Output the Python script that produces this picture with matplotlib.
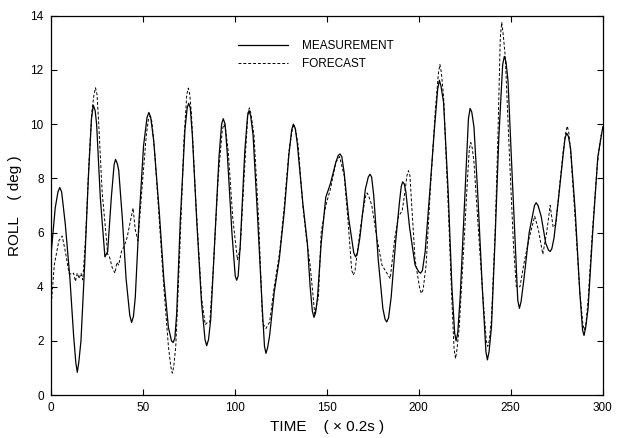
import matplotlib
matplotlib.use("Agg")
import matplotlib.pyplot as plt

plt.rcParams['font.family'] = ['Liberation Sans', 'DejaVu Sans']

meas_t = [0, 2.5, 4, 5, 6, 8, 10.5, 12.5, 13.7, 14.5, 15.3, 16.5, 18.5, 20.5, 22.2, 23.2, 24.2, 25, 27, 29.5, 31, 33, 34.5, 35.3, 36.2, 37, 39, 41,
          43, 44, 45, 46, 48, 50.5, 52.4, 53.4, 54.4, 56, 59, 61.5, 64, 65.7, 66.6, 67.5, 68.5, 70.5, 73, 74.2, 75, 75.9, 77, 79.5, 82, 83.9, 84.8, 85.8, 87, 89,
          91.5, 92.9, 93.8, 94.8, 96, 98.5, 100.3, 101.1, 101.9, 103, 105.5, 107, 107.8, 108.7, 110, 112.5, 115, 116.2, 117, 117.9, 119, 121.5, 124.2, 127, 129.5, 131, 131.9, 132.9, 134, 137,
          139.5, 141, 142.2, 143.1, 144, 145, 147, 149.5, 152, 155, 156.3, 157.2, 158.2, 159.5, 162, 164.7, 165.7, 166.7, 168, 171, 172.6, 173.5, 174.4, 175.5, 178, 180.5, 181.7, 182.6, 183.6, 185,
          187.5, 189.5, 190.5, 191.3, 192.1, 193, 195, 198, 200, 201, 202, 203.5, 206, 208.5, 210.3, 211.2, 212.1, 213.5, 216, 218, 219.5, 220.3, 221.2, 222.5, 225, 227, 227.9, 228.8, 230, 232,
          234.5, 236.5, 237.3, 238.2, 239.5, 241.5, 243.5, 245.6, 246.5, 247.4, 248.5, 250.5, 252.5, 253.8, 254.7, 255.6, 257, 260, 262.9, 263.8, 264.8, 266.5, 269, 270.5, 271.4, 272.3, 273.5, 276, 278.5, 279.5, 280.4,
          281.3, 282.5, 285, 287.5, 289, 289.8, 290.7, 292, 294.5, 297.3, 300]
meas_v = [5.0, 6.9, 7.5, 7.66, 7.5, 6.3, 4.3, 2.2, 1.2, 0.84, 1.2, 2.0, 4.8, 8.0, 10.2, 10.7, 10.5, 10.0, 7.3, 5.1, 5.3, 7.3, 8.5, 8.7, 8.55, 8.3, 6.5, 4.3,
          2.95, 2.68, 2.9, 3.6, 6.4, 9.2, 10.25, 10.43, 10.25, 9.4, 6.8, 4.3, 2.5, 2.0, 1.94, 2.1, 3.0, 6.5, 9.8, 10.6, 10.77, 10.6, 9.6, 6.3, 3.4, 2.05, 1.82, 2.05, 2.8, 5.5,
          8.8, 10.0, 10.2, 10.0, 8.9, 6.0, 4.4, 4.24, 4.4, 5.5, 9.0, 10.3, 10.5, 10.3, 9.6, 6.5, 3.2, 1.8, 1.54, 1.75, 2.2, 3.8, 5.0, 6.8, 8.9, 9.8, 10.0, 9.85, 9.3, 7.1,
          5.6, 4.0, 3.1, 2.87, 3.05, 3.6, 5.6, 7.3, 7.8, 8.6, 8.85, 8.9, 8.8, 8.2, 6.5, 5.25, 5.1, 5.25, 5.8, 7.6, 8.05, 8.15, 8.05, 7.4, 5.0, 3.2, 2.8, 2.7, 2.85, 3.6,
          5.7, 7.1, 7.7, 7.87, 7.8, 7.5, 6.2, 4.8, 4.55, 4.5, 4.6, 5.3, 7.5, 9.8, 11.3, 11.62, 11.4, 10.8, 7.5, 4.0, 2.3, 2.0, 2.3, 3.6, 7.3, 10.2, 10.58, 10.45, 9.9, 7.5,
          4.0, 1.6, 1.3, 1.6, 2.5, 5.8, 9.5, 12.2, 12.5, 12.3, 11.6, 8.5, 5.5, 3.5, 3.2, 3.45, 4.2, 6.0, 7.0, 7.1, 7.0, 6.6, 5.6, 5.35, 5.3, 5.4, 5.8, 7.3, 8.9, 9.5, 9.66,
          9.55, 9.1, 6.8, 3.8, 2.4, 2.2, 2.5, 3.2, 6.0, 8.8, 9.9]

fc_t = [0, 2, 4.5, 6.3, 8, 10, 11.5, 12.5, 13.5, 14.5, 15.5, 16.5, 17.5, 19, 21, 22.5, 23.6, 24.4, 25.2, 26, 28, 30,
        31, 32, 33.5, 35, 36, 37, 38.5, 40, 41.5, 43, 44.8, 46, 47.5, 49.5, 52, 53.2, 54, 55, 56.5, 59, 61.5, 64,
        65.3, 66.1, 66.9, 68, 70, 72.5, 74, 74.8, 75.6, 76.5, 79, 82, 84, 85.5, 86.5, 88.5, 91, 93.3, 94.2, 95.1, 96.5, 99, 101.5, 103, 105.5, 107.2, 108, 108.8,
        110.5, 113, 115.2, 117, 119, 121.5, 124.5, 127, 129.5, 131.3, 132.2, 133.1, 134.5, 137, 139, 141, 143.5, 145.5, 147, 149.5, 152, 155,
        157, 159.5, 161.5, 163.6, 164.5, 165.4, 166.5, 169, 171.2, 172, 172.8, 174.5, 177, 180, 184.5, 187, 189, 191, 192.5, 193.6, 194.4, 195.2, 196, 198, 200.6, 201.5, 202.4, 204,
        206.5, 209, 210.7, 211.5, 212.3, 213.5, 216, 218, 219.2, 220, 220.8, 222, 224.5, 226.5, 227.5, 228.3, 229.1, 230, 232.5, 235, 236.7, 237.5, 238.3, 239.5, 241.5, 243, 244.3, 245.1, 245.9, 247,
        249.5, 251.5, 253, 255, 257, 260, 263, 265, 267.4, 269.5, 271.4, 273, 274.5, 276.5, 278.5, 279.9, 280.7, 281.5, 282.5, 285, 287.5, 289.2, 290, 290.8,
        292, 294.5, 297, 299]
fc_v = [3.0, 4.8, 5.7, 5.87, 5.3, 4.5, 4.45, 4.5, 4.2, 4.5, 4.3, 4.5, 4.25, 5.8, 8.8, 10.5, 11.1, 11.34, 11.1, 10.2, 7.5, 6.0,
        5.2, 5.1, 4.7, 4.5, 4.9, 4.8, 5.3, 5.5, 5.8, 6.3, 6.9, 6.1, 5.7, 7.5, 9.6, 10.2, 10.3, 10.1, 9.0, 6.5, 4.0, 1.8,
        1.05, 0.81, 1.05, 1.8, 5.0, 9.5, 11.1, 11.33, 11.1, 10.4, 7.0, 3.6, 2.6, 2.7, 2.7, 4.8, 8.0, 9.8, 10.0, 9.8, 9.0, 6.5, 5.0, 5.4, 8.5, 10.4, 10.6, 10.4,
        9.6, 6.5, 2.65, 2.46, 2.7, 4.0, 5.3, 7.0, 9.0, 9.8, 9.95, 9.8, 9.2, 7.0, 5.8, 4.8, 3.0, 3.6, 6.0, 7.0, 7.6, 8.6,
        8.8, 8.1, 6.5, 4.6, 4.43, 4.6, 5.2, 6.5, 7.35, 7.46, 7.35, 7.0, 5.9, 4.8, 4.3, 5.8, 6.6, 6.8, 7.5, 8.1, 8.28, 8.1, 7.2, 5.0, 3.9, 3.75, 3.9, 4.8,
        7.8, 10.5, 11.9, 12.2, 11.9, 11.0, 7.0, 3.5, 1.7, 1.35, 1.7, 2.5, 5.5, 8.0, 9.1, 9.32, 9.1, 8.6, 6.0, 3.5, 2.0, 1.8, 2.0, 2.8, 6.0, 9.5, 13.2, 13.75, 13.3, 12.5,
        8.5, 5.5, 4.0, 4.0, 4.8, 5.8, 6.6, 6.1, 5.2, 6.0, 7.0, 6.2, 6.3, 7.7, 9.0, 9.7, 9.93, 9.7, 9.0, 6.5, 3.8, 2.6, 2.4, 2.6,
        3.5, 6.2, 8.5, 9.6]

x_ticks = [0, 50, 100, 150, 200, 250, 300]
y_ticks = [0, 2, 4, 6, 8, 10, 12, 14]

fig = plt.figure(figsize=(6.17, 4.38), dpi=100)
ax = fig.add_axes([0.082, 0.098, 0.895, 0.866])

ax.plot(meas_t, meas_v, color='black', lw=0.9, label='MEASUREMENT')
ax.plot(fc_t, fc_v, color='black', lw=0.7, linestyle=(0, (3, 2)), label='FORECAST')

ax.set_xlim(0, 300)
ax.set_ylim(0, 14)
ax.set_xticks(x_ticks)
ax.set_yticks(y_ticks)
ax.tick_params(direction='in', length=4, width=0.8, top=True, right=True, labelsize=8.5, pad=5)
for s in ax.spines.values():
    s.set_linewidth(0.9)

ax.set_xlabel('TIME    ( × 0.2s )', fontsize=11, labelpad=4)
ax.set_ylabel('ROLL    ( deg )', fontsize=11, labelpad=6)

leg = ax.legend(loc='upper left', bbox_to_anchor=(0.32, 0.965), frameon=False,
                fontsize=8.5, handlelength=4.2, handletextpad=1.2, labelspacing=0.55)

fig.savefig('out.png', dpi=100)
